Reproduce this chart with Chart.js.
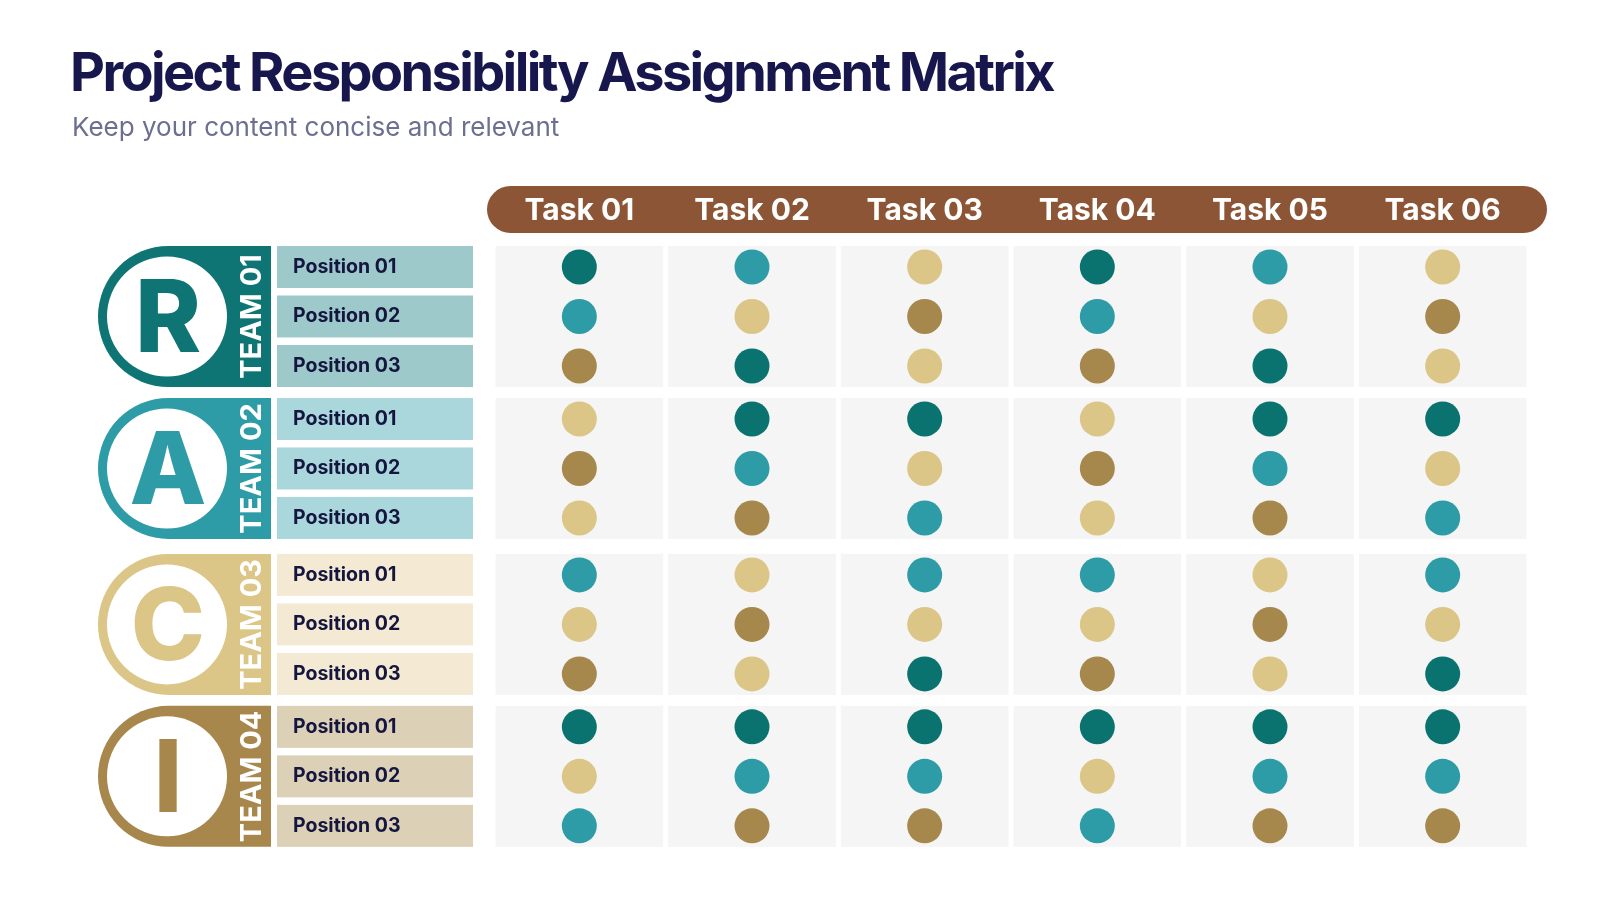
<!DOCTYPE html>
<html lang="en">
<head>
  <meta charset="UTF-8" />
  <meta name="viewport" content="width=device-width, initial-scale=1.0" />
  <title>Project Responsibility Assignment Matrix</title>
  <script src="https://cdn.jsdelivr.net/npm/chart.js"></script>
  <style>
    * { box-sizing: border-box; margin: 0; padding: 0; }
    body {
      width: 1600px;
      height: 900px;
      background: #fff;
      font-family: 'Inter', sans-serif;
      position: relative;
      overflow: hidden;
    }
    h1 {
      position: absolute;
      left: 70px;
      top: 39px;
      font-size: 54px;
      font-weight: 700;
      letter-spacing: -2.6px;
      color: #17174d;
      z-index: 2;
      white-space: nowrap;
    }
    .subtitle {
      position: absolute;
      left: 72px;
      top: 111px;
      font-size: 26px;
      color: #6c6f8f;
      z-index: 2;
      white-space: nowrap;
    }
    #chartBox {
      position: absolute;
      left: 0;
      top: 0;
      width: 1600px;
      height: 900px;
    }
  </style>
</head>
<body>
  <h1>Project Responsibility Assignment Matrix</h1>
  <p class="subtitle">Keep your content concise and relevant</p>
  <div id="chartBox"><canvas id="matrix"></canvas></div>

  <script>
    const taskLabels = ["Task 01", "Task 02", "Task 03", "Task 04", "Task 05", "Task 06"];
    const teamLabels = ["TEAM 01", "TEAM 02", "TEAM 03", "TEAM 04"];
    const teamLetters = ["R", "A", "C", "I"];
    const positionLabels = ["Position 01", "Position 02", "Position 03"];

    // one row per position, one code per task
    // 0 = dark teal, 1 = teal, 2 = light gold, 3 = bronze
    const team01 = [[0, 1, 2, 0, 1, 2], [1, 2, 3, 1, 2, 3], [3, 0, 2, 3, 0, 2]];
    const team02 = [[2, 0, 0, 2, 0, 0], [3, 1, 2, 3, 1, 2], [2, 3, 1, 2, 3, 1]];
    const team03 = [[1, 2, 1, 1, 2, 1], [2, 3, 2, 2, 3, 2], [3, 2, 0, 3, 2, 0]];
    const team04 = [[0, 0, 0, 0, 0, 0], [2, 1, 1, 2, 1, 1], [1, 3, 3, 1, 3, 3]];
    const teams = [team01, team02, team03, team04];

    const dotColors = ["#0b736f", "#2e9ca6", "#dbc587", "#a6874c"];
    const teamColors = ["#0e7574", "#2e9ca6", "#dcc687", "#a8874c"];
    const boxColors = ["#9dc9ca", "#a9d7dc", "#f4e9d2", "#dcd0b6"];

    // layout: where each team block starts on the row axis (gaps between blocks)
    const groupStart = [0, 3.07, 6.22, 9.29];
    const rowValue = (g, p) => groupStart[g] + p;
    const rowValues = [];
    teams.forEach((rows, g) => rows.forEach((r, p) => rowValues.push(rowValue(g, p))));

    const points = [];
    teams.forEach((rows, g) => {
      rows.forEach((codes, p) => {
        codes.forEach((code, t) => points.push({ x: t, y: rowValue(g, p), code: code }));
      });
    });

    const backdrop = {
      id: "backdrop",
      beforeDraw(chart) {
        const { ctx, chartArea, scales: { x, y } } = chart;
        ctx.save();

        // task header bar
        const hx0 = chartArea.left - 6, hx1 = chartArea.right + 18;
        const hy0 = chartArea.top - 60, hy1 = chartArea.top - 13;
        ctx.fillStyle = "#8c5535";
        ctx.beginPath();
        ctx.roundRect(hx0, hy0, hx1 - hx0, hy1 - hy0, (hy1 - hy0) / 2);
        ctx.fill();

        teams.forEach((rows, g) => {
          const top = y.getPixelForValue(rowValue(g, 0)) - 21;
          const bottom = y.getPixelForValue(rowValue(g, rows.length - 1)) + 21;
          const mid = (top + bottom) / 2;

          // grey cells
          ctx.fillStyle = "#f5f5f5";
          taskLabels.forEach((lbl, t) => {
            const l = x.getPixelForValue(t - 0.5) + 2.5;
            const r = x.getPixelForValue(t + 0.5) - 2.5;
            ctx.fillRect(l, top, r - l, bottom - top);
          });

          // position boxes
          ctx.fillStyle = boxColors[g];
          rows.forEach((codes, p) => {
            const c = y.getPixelForValue(rowValue(g, p));
            ctx.fillRect(277, c - 21, 196, 42);
          });

          // team badge
          const bl = 98, br = 271, rad = (bottom - top) / 2;
          ctx.fillStyle = teamColors[g];
          ctx.beginPath();
          ctx.moveTo(br, top);
          ctx.lineTo(bl + rad, top);
          ctx.arc(bl + rad, mid, rad, -Math.PI / 2, Math.PI / 2, true);
          ctx.lineTo(br, bottom);
          ctx.closePath();
          ctx.fill();

          ctx.fillStyle = "#fff";
          ctx.beginPath();
          ctx.arc(167, mid, 60, 0, Math.PI * 2);
          ctx.fill();

          ctx.fillStyle = teamColors[g];
          ctx.font = "800 100px Inter";
          ctx.textAlign = "center";
          ctx.textBaseline = "alphabetic";
          ctx.fillText(teamLetters[g], 168, mid + 36);

          ctx.save();
          ctx.translate(250, mid);
          ctx.rotate(-Math.PI / 2);
          ctx.fillStyle = "#fff";
          ctx.font = "700 29px Inter";
          ctx.fillText(teamLabels[g], 0, 10.5);
          ctx.restore();
        });

        ctx.restore();
      }
    };

    new Chart(document.getElementById("matrix"), {
      type: "scatter",
      data: {
        datasets: [{
          data: points,
          backgroundColor: ctx => dotColors[ctx.raw.code],
          borderWidth: 0,
          pointRadius: 17.5,
          pointHoverRadius: 17.5
        }]
      },
      options: {
        responsive: true,
        maintainAspectRatio: false,
        animation: false,
        events: [],
        layout: { padding: { left: 293, right: 71, top: 150, bottom: 52 } },
        plugins: { legend: { display: false }, tooltip: { enabled: false } },
        scales: {
          x: {
            type: "linear",
            position: "top",
            min: -0.5,
            max: 5.5,
            grid: { display: false },
            border: { display: false },
            afterBuildTicks: axis => { axis.ticks = taskLabels.map((l, i) => ({ value: i })); },
            afterFit: axis => { axis.height = 96; },
            ticks: {
              autoSkip: false,
              maxRotation: 0,
              padding: 9,
              color: "#fff",
              font: { family: "Inter", size: 30, weight: "700" },
              callback: (v, i) => taskLabels[i]
            }
          },
          y: {
            type: "linear",
            reverse: true,
            min: -0.424,
            max: 11.737,
            grid: { display: false },
            border: { display: false },
            afterBuildTicks: axis => { axis.ticks = rowValues.map(v => ({ value: v })); },
            afterFit: axis => { axis.width = 200; },
            ticks: {
              autoSkip: false,
              crossAlign: "far",
              color: "#15163f",
              font: { family: "Inter", size: 19.5, weight: "700" },
              callback: (v, i) => positionLabels[i % positionLabels.length]
            }
          }
        }
      },
      plugins: [backdrop]
    });
  </script>
</body>
</html>
